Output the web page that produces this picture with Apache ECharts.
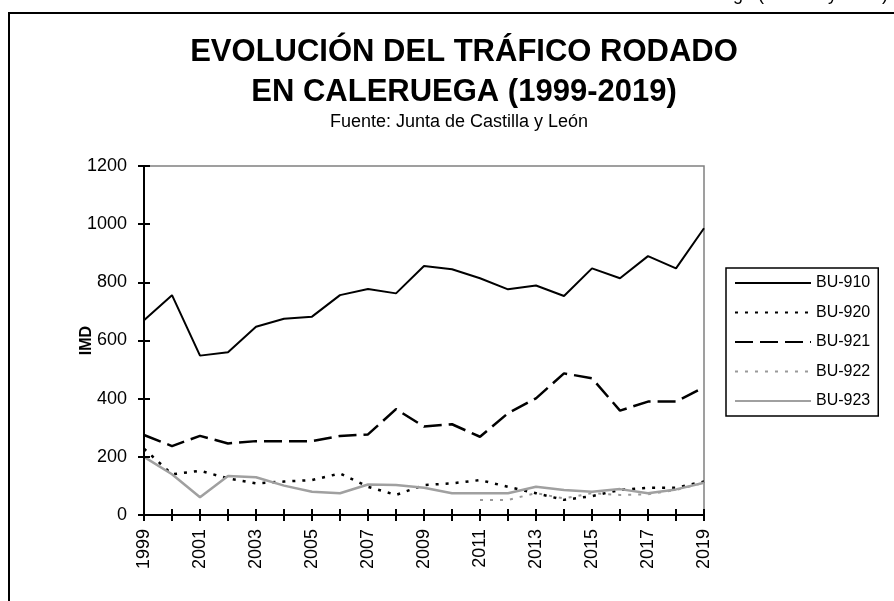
<!DOCTYPE html>
<html>
<head>
<meta charset="utf-8">
<script src="https://cdn.jsdelivr.net/npm/echarts@6/dist/echarts.min.js"></script>
<style>html,body{margin:0;padding:0;background:#fff;}#c{width:894px;height:601px;}</style>
</head>
<body>
<div id="c"></div>
<script>
var years = ['1999','2000','2001','2002','2003','2004','2005','2006','2007','2008','2009','2010','2011','2012','2013','2014','2015','2016','2017','2018','2019'];
var bu910 = [670,756,548,560,647,675,682,756,777,762,856,845,814,776,789,753,848,814,890,848,986];
var bu920 = [228,140,152,126,109,115,120,143,97,69,103,109,120,97,75,52,65,86,94,94,115];
var bu921 = [275,237,272,246,254,254,254,272,277,364,304,312,269,350,401,487,470,359,390,390,439];
var bu922 = [null,null,null,null,null,null,null,null,null,null,null,null,52,52,75,57,75,69,71,86,111];
var bu923 = [200,140,61,134,130,101,80,75,105,103,94,75,75,75,97,86,80,89,75,88,111];
var yTicks = {min:0, max:1200, interval:200};
var seriesNames = ['BU-910','BU-920','BU-921','BU-922','BU-923'];

var FONT = 'Arial, "Liberation Sans", sans-serif';
var chart = echarts.init(document.getElementById('c'), null, {renderer:'canvas'});

function mk(name, data, color, type, width){
  return {name:name, type:'line', data:data, symbol:'none', showSymbol:false, connectNulls:false,
    lineStyle:{color:color, type:type, width:width}, itemStyle:{color:color}, animation:false, z:3};
}

var option = {
  animation:false,
  backgroundColor:'#fff',
  title:[
    {text:'EVOLUCIÓN DEL TRÁFICO RODADO\nEN CALERUEGA (1999-2019)', left:459, top:27, textAlign:'center',
     textStyle:{fontFamily:FONT, fontSize:31, fontWeight:'bold', color:'#000', lineHeight:40}},
    {text:'Fuente: Junta de Castilla y León', left:454, top:108, textAlign:'center',
     textStyle:{fontFamily:FONT, fontSize:18, fontWeight:'normal', color:'#000'}}
  ],
  graphic:[
    {type:'rect', shape:{x:9, y:13, width:1000, height:1000}, style:{fill:'none', stroke:'#000', lineWidth:2}, silent:true},
    {type:'text', x:888, y:4, style:{text:'Tráfico en Caleruega (Castilla y León)', font:'18px Arial, "Liberation Sans"', fill:'#000', align:'right', verticalAlign:'bottom'}}
  ],
  legend:{
    orient:'vertical', left:726, top:268, data:seriesNames,
    itemWidth:76, itemHeight:14, itemGap:13.5,
    borderColor:'#000', borderWidth:1.5, padding:[7,8,7,8],
    itemStyle:{opacity:0},
    textStyle:{fontFamily:FONT, fontSize:16, color:'#000'},
    selectedMode:false
  },
  grid:{left:144, right:190, top:166, bottom:86, show:true, borderColor:'#808080', borderWidth:1.5, backgroundColor:'#fff'},
  xAxis:[
    {type:'category', data:years, boundaryGap:false, position:'bottom',
     axisLine:{lineStyle:{color:'#000', width:2}},
     axisTick:{show:true, interval:0, length:6, lineStyle:{color:'#000', width:2}},
     axisLabel:{interval:1, rotate:90, margin:14, fontFamily:FONT, fontSize:18, color:'#000'},
     splitLine:{show:false}, z:5},
    {type:'category', data:years, boundaryGap:false, position:'bottom',
     axisLine:{show:false},
     axisTick:{show:true, inside:true, interval:0, length:6, lineStyle:{color:'#000', width:2}},
     axisLabel:{show:false}, splitLine:{show:false}, z:5}
  ],
  yAxis:[
    {type:'value', min:yTicks.min, max:yTicks.max, interval:yTicks.interval, position:'left',
     name:'IMD', nameLocation:'middle', nameGap:49, nameRotate:90, nameMoveOverlap:false,
     nameTextStyle:{fontFamily:FONT, fontSize:16, fontWeight:'bold', color:'#000'},
     axisLine:{show:true, lineStyle:{color:'#000', width:2}},
     axisTick:{show:true, length:6, lineStyle:{color:'#000', width:2}},
     axisLabel:{margin:17, fontFamily:FONT, fontSize:18, color:'#000', formatter:function(v){return String(v);}},
     splitLine:{show:false}, z:5},
    {type:'value', min:yTicks.min, max:yTicks.max, interval:yTicks.interval, position:'left',
     axisLine:{show:false},
     axisTick:{show:true, inside:true, length:6, lineStyle:{color:'#000', width:2}},
     axisLabel:{show:false}, splitLine:{show:false}, z:5}
  ],
  series:[
    mk('BU-910', bu910, '#000', 'solid', 2),
    mk('BU-920', bu920, '#000', [3,7], 2.5),
    mk('BU-921', bu921, '#000', [18,7], 2.5),
    mk('BU-922', bu922, '#999', [3,7], 2),
    mk('BU-923', bu923, '#a0a0a0', 'solid', 2.5)
  ]
};
chart.setOption(option);
</script>
</body>
</html>
